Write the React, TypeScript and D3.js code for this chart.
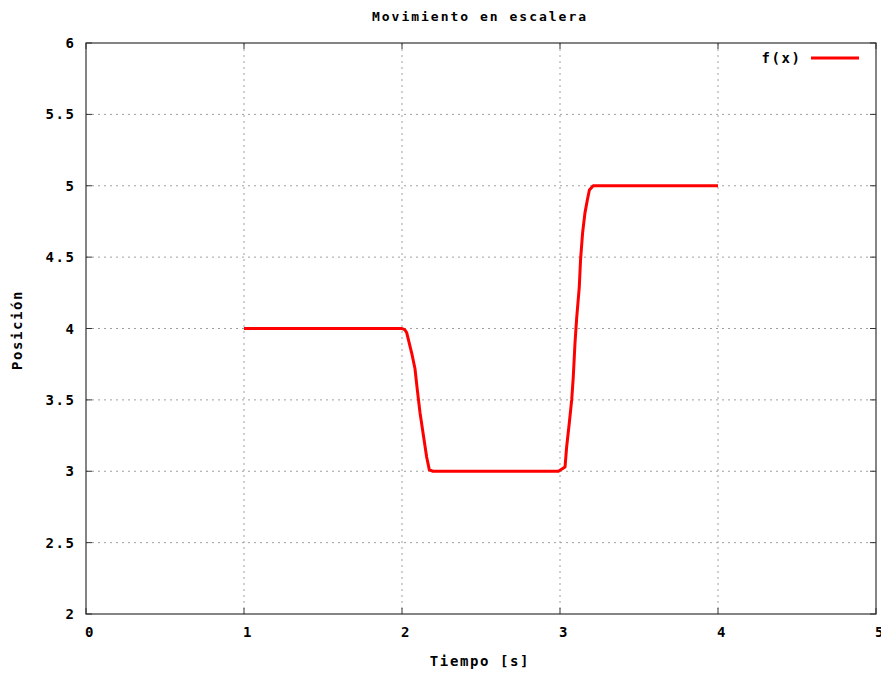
import React from "react";
import * as d3 from "d3";

const xs = [1, 1.5, 2.0, 2.019, 2.03, 2.061, 2.082, 2.097, 2.114, 2.133, 2.156, 2.173, 2.196, 2.5, 2.99, 3.032, 3.042, 3.059, 3.074, 3.084, 3.095, 3.106, 3.122, 3.13, 3.143, 3.158, 3.173, 3.186, 3.21, 3.5, 4.0];
const ys = [4, 4, 4, 3.99, 3.97, 3.83, 3.72, 3.57, 3.41, 3.27, 3.1, 3.01, 3.0, 3, 3, 3.03, 3.17, 3.34, 3.5, 3.66, 3.9, 4.08, 4.29, 4.48, 4.67, 4.81, 4.9, 4.97, 5.0, 5, 5];
const xTicks = [0, 1, 2, 3, 4, 5];
const yTicks = [2, 2.5, 3, 3.5, 4, 4.5, 5, 5.5, 6];

const W = 881, H = 673;
const L = 86, R = 876, T = 43, B = 614;
const FONT = "'DejaVu Sans Mono', monospace";
const LS = 1.6;

export default function App() {
  const x = d3.scaleLinear().domain([0, 5]).range([L, R]);
  const y = d3.scaleLinear().domain([2, 6]).range([B, T]);
  const pts = xs.map((v, i) => [v, ys[i]] as [number, number]);
  const line = d3.line<[number, number]>().x(d => x(d[0])).y(d => y(d[1]));
  const fmt = (v: number) => (Number.isInteger(v) ? String(v) : v.toFixed(1));
  const txt = { fontFamily: FONT, fontWeight: "bold" as const, fontSize: 14, letterSpacing: LS };
  return (
    <svg width={W} height={H} style={{ position: "absolute", left: 0, top: 0, background: "#fff" }}>
      {xTicks.filter(t => t > 0 && t < 5).map(t => (
        <line key={"gx" + t} x1={x(t)} x2={x(t)} y1={T} y2={B} stroke="#a0a0a0" strokeDasharray="2,4" />
      ))}
      {yTicks.filter(t => t > 2 && t < 6).map(t => (
        <line key={"gy" + t} x1={L} x2={R} y1={y(t)} y2={y(t)} stroke="#a0a0a0" strokeDasharray="2,4" />
      ))}
      {xTicks.map(t => (
        <g key={"tx" + t}>
          <line x1={x(t)} x2={x(t)} y1={B} y2={B - 6} stroke="#333" />
          <line x1={x(t)} x2={x(t)} y1={T} y2={T + 6} stroke="#333" />
          <text x={x(t) + 4} y={637} textAnchor="middle" {...txt}>{fmt(t)}</text>
        </g>
      ))}
      {yTicks.map(t => (
        <g key={"ty" + t}>
          <line x1={L} x2={L + 6} y1={y(t)} y2={y(t)} stroke="#333" />
          <line x1={R} x2={R - 6} y1={y(t)} y2={y(t)} stroke="#333" />
          <text x={74 + LS} y={y(t) + 5} textAnchor="end" {...txt}>{fmt(t)}</text>
        </g>
      ))}
      <rect x={L} y={T} width={R - L} height={B - T} fill="none" stroke="#333" strokeWidth={1.2} />
      <path d={line(pts) || ""} fill="none" stroke="#ff0000" strokeWidth={3} strokeLinejoin="round" />
      <text x={800 + LS} y={63} textAnchor="end" {...txt}>f(x)</text>
      <line x1={811} x2={859} y1={58} y2={58} stroke="#ff0000" strokeWidth={3} />
      <text x={480} y={21} textAnchor="middle" {...txt} fontSize={13} letterSpacing={2}>Movimiento en escalera</text>
      <text x={480} y={666} textAnchor="middle" {...txt}>Tiempo [s]</text>
      <text transform="translate(22,330) rotate(-90)" textAnchor="middle" {...txt}>Posición</text>
    </svg>
  );
}
